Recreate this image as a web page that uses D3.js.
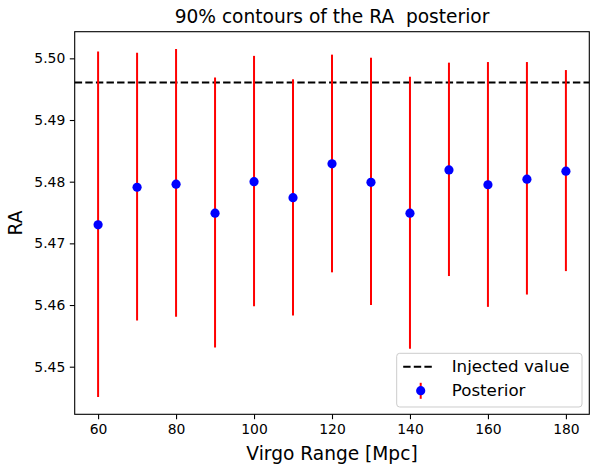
<!DOCTYPE html>
<html>
<head>
<meta charset="utf-8">
<script src="https://cdn.jsdelivr.net/npm/d3@7"></script>
<style>
  html, body { margin: 0; padding: 0; background: #fff; }
  svg { display: block; font-family: "DejaVu Sans", sans-serif; }
</style>
</head>
<body>
<div id="chart"></div>
<script>
// ── Datos ───────────────────────────────────────────
const virgoRange = [60, 70, 80, 90, 100, 110, 120, 130, 140, 150, 160, 170, 180];
const raMedian   = [5.4730, 5.4791, 5.4796, 5.4749, 5.4800, 5.4774, 5.4829, 5.4799, 5.4749, 5.4819, 5.4795, 5.4804, 5.4817];
const raUpper    = [5.5011, 5.5009, 5.5015, 5.4969, 5.5004, 5.4966, 5.5006, 5.5001, 5.4970, 5.4993, 5.4994, 5.4994, 5.4981];
const raLower    = [5.4451, 5.4575, 5.4581, 5.4531, 5.4598, 5.4583, 5.4653, 5.4600, 5.4529, 5.4647, 5.4597, 5.4617, 5.4655];
const injectedRA = 5.4961;
const xTicks = [60, 80, 100, 120, 140, 160, 180];
const yTicks = [5.45, 5.46, 5.47, 5.48, 5.49, 5.50];

const W = 592, H = 468;
const margin = { left: 74.7, right: 592 - 589.3, top: 31.7, bottom: 468 - 414.3 };
const pw = W - margin.left - margin.right;
const ph = H - margin.top - margin.bottom;

const points = virgoRange.map((x, i) => ({ x, y: raMedian[i], lo: raLower[i], hi: raUpper[i] }));

// márgenes tipo matplotlib (5%)
const xMin = d3.min(virgoRange), xMax = d3.max(virgoRange);
const yMin = d3.min(raLower), yMax = d3.max(raUpper);
const xPad = (xMax - xMin) * 0.05, yPad = (yMax - yMin) * 0.05;

const x = d3.scaleLinear().domain([xMin - xPad, xMax + xPad]).range([0, pw]);
const y = d3.scaleLinear().domain([yMin - yPad, yMax + yPad]).range([ph, 0]);

const svg = d3.select('#chart').append('svg')
    .attr('width', W).attr('height', H);

const g = svg.append('g').attr('transform', `translate(${margin.left},${margin.top})`);

// ── Línea del valor inyectado ───────────────────────
g.append('line')
    .attr('x1', 0).attr('x2', pw)
    .attr('y1', y(injectedRA)).attr('y2', y(injectedRA))
    .attr('stroke', '#000').attr('stroke-width', 2)
    .attr('stroke-dasharray', '7.4,3.2');

// ── Barras de error ─────────────────────────────────
g.append('g').selectAll('line')
    .data(points)
    .join('line')
    .attr('x1', d => x(d.x)).attr('x2', d => x(d.x))
    .attr('y1', d => y(d.lo)).attr('y2', d => y(d.hi))
    .attr('stroke', '#ff0000').attr('stroke-width', 2);

// ── Puntos ──────────────────────────────────────────
g.append('g').selectAll('circle')
    .data(points)
    .join('circle')
    .attr('cx', d => x(d.x)).attr('cy', d => y(d.y))
    .attr('r', 4.6)
    .attr('fill', '#0000ff');

// ── Ejes ────────────────────────────────────────────
const xAxis = g.append('g')
    .attr('transform', `translate(0,${ph})`)
    .call(d3.axisBottom(x).tickValues(xTicks).tickSizeOuter(0).tickSize(4.9).tickPadding(4.5));
const yAxis = g.append('g')
    .call(d3.axisLeft(y).tickValues(yTicks).tickFormat(d3.format('.2f')).tickSizeOuter(0).tickSize(4.9).tickPadding(4.5));

[xAxis, yAxis].forEach(a => {
    a.select('.domain').remove();
    a.selectAll('line').attr('stroke', '#000').attr('stroke-width', 1.1);
    a.selectAll('text').attr('fill', '#000')
        .style('font-size', '13.9px')
        .style('font-family', '"DejaVu Sans", sans-serif');
});

// marco
g.append('rect')
    .attr('x', 0).attr('y', 0).attr('width', pw).attr('height', ph)
    .attr('fill', 'none').attr('stroke', '#000').attr('stroke-width', 1.1);

// ── Textos ──────────────────────────────────────────
svg.append('text')
    .attr('x', margin.left + pw / 2).attr('y', 22.5)
    .attr('text-anchor', 'middle')
    .style('font-size', '18.6px')
    .style('white-space', 'pre')
    .attr('xml:space', 'preserve')
    .text('90% contours of the RA  posterior');

svg.append('text')
    .attr('x', margin.left + pw / 2).attr('y', 460)
    .attr('text-anchor', 'middle')
    .style('font-size', '18.6px')
    .text('Virgo Range [Mpc]');

svg.append('text')
    .attr('transform', `translate(22,${margin.top + ph / 2}) rotate(-90)`)
    .attr('text-anchor', 'middle')
    .style('font-size', '18.6px')
    .text('RA');

// ── Leyenda ─────────────────────────────────────────
const leg = svg.append('g').attr('transform', 'translate(396.7,353.3)');
leg.append('rect')
    .attr('width', 185.3).attr('height', 53.7)
    .attr('rx', 3)
    .attr('fill', '#fff').attr('fill-opacity', 0.8)
    .attr('stroke', '#cccccc').attr('stroke-width', 1);

leg.append('line')
    .attr('x1', 6.5).attr('x2', 38)
    .attr('y1', 13.5).attr('y2', 13.5)
    .attr('stroke', '#000').attr('stroke-width', 2)
    .attr('stroke-dasharray', '7.4,3.2');
leg.append('text')
    .attr('x', 55).attr('y', 18.6)
    .style('font-size', '16.7px')
    .text('Injected value');

leg.append('line')
    .attr('x1', 24).attr('x2', 24)
    .attr('y1', 29.5).attr('y2', 45.5)
    .attr('stroke', '#ff0000').attr('stroke-width', 2);
leg.append('circle')
    .attr('cx', 24).attr('cy', 37.4).attr('r', 4.6)
    .attr('fill', '#0000ff');
leg.append('text')
    .attr('x', 55).attr('y', 42.6)
    .style('font-size', '16.7px')
    .text('Posterior');
</script>
</body>
</html>
